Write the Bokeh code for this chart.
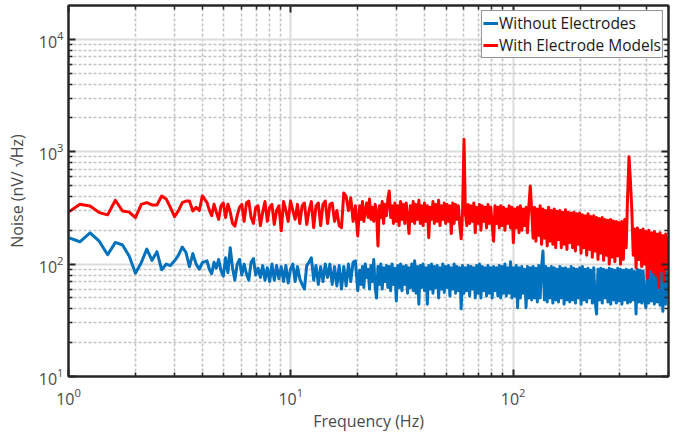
import numpy as np
from bokeh.plotting import figure
from bokeh.models import (LogAxis, FixedTicker, Legend, LegendItem, Range1d,
                          LogTickFormatter, LogTicker, CustomJSTickFormatter)
from bokeh.embed import file_html
from bokeh.resources import INLINE

# ---- data ----
# 1 - 4 Hz, linear 0.125 Hz bins
FREQ_A = [1.0, 1.125, 1.25, 1.375, 1.5, 1.625, 1.75, 1.875, 2.0, 2.125, 2.25, 2.375, 2.5,
          2.625, 2.75, 2.875, 3.0, 3.125, 3.25, 3.375, 3.5, 3.625, 3.75, 3.875, 4.0]
BLUE_A = [172, 158, 190, 160, 121, 156, 148, 118, 83, 103, 136, 108, 129,
          89, 100, 97, 107, 120, 142, 127, 95, 124, 100, 90, 103]
RED_A = [290, 341, 329, 287, 274, 370, 297, 290, 259, 340, 352, 336, 336,
         404, 380, 318, 264, 300, 352, 364, 364, 297, 320, 300, 404]

# 4.2 - 20 Hz sampling grid
FREQ_B = list(np.geomspace(4.2, 20.0, 66))
BLUE_B = [107, 90, 82, 104, 92, 110, 88, 78, 114, 84,
          140, 92, 72, 100, 110, 80, 100, 82, 72, 104,
          112, 80, 92, 76, 97, 72, 93, 70, 100, 72,
          97, 74, 95, 70, 97, 68, 90, 100, 70, 95,
          74, 66, 60, 97, 104, 114, 72, 97, 66, 95,
          70, 100, 76, 100, 66, 95, 64, 97, 60, 95,
          64, 100, 70, 104, 107, 58]
RED_B = [352, 300, 270, 341, 290, 250, 330, 350, 260, 341,
         290, 230, 218, 270, 320, 340, 240, 350, 364, 260,
         230, 320, 330, 220, 290, 360, 240, 320, 340, 225,
         300, 330, 198, 360, 300, 240, 364, 300, 250, 340,
         230, 330, 350, 225, 300, 360, 211, 330, 350, 220,
         340, 364, 230, 340, 350, 240, 300, 220, 211, 430,
         400, 300, 390, 240, 330, 178]

# 20.4 - 500 Hz sampling grid
FREQ_C = list(np.geomspace(20.4, 500, 220))
BLUE_C = [88, 66, 95, 62, 100, 76, 90, 60, 97, 70,
          110, 62, 50, 95, 66, 100, 60, 93, 70, 97,
          62, 95, 58, 100, 66, 92, 47, 97, 62, 100,
          58, 95, 66, 97, 55, 93, 62, 100, 58, 107,
          55, 95, 44, 97, 62, 100, 58, 93, 44, 97,
          60, 100, 55, 95, 62, 97, 50, 93, 60, 100,
          56, 95, 62, 97, 52, 93, 60, 100, 55, 95,
          58, 93, 40, 97, 55, 93, 58, 97, 52, 95,
          60, 93, 50, 97, 55, 100, 50, 95, 58, 93,
          52, 97, 55, 93, 50, 95, 58, 93, 52, 97,
          50, 95, 55, 100, 52, 93, 55, 105, 50, 93,
          52, 97, 41, 93, 50, 95, 55, 90, 41, 95,
          50, 93, 48, 95, 50, 92, 46, 97, 50, 95,
          131, 48, 95, 46, 92, 50, 95, 45, 93, 48,
          90, 46, 95, 50, 92, 44, 93, 48, 90, 46,
          95, 48, 92, 45, 90, 50, 93, 44, 95, 48,
          90, 46, 92, 50, 88, 45, 93, 47, 36, 90,
          48, 92, 45, 90, 50, 88, 46, 92, 44, 90,
          48, 88, 45, 92, 47, 90, 44, 88, 48, 90,
          45, 88, 46, 90, 48, 86, 36, 90, 46, 88,
          45, 87, 48, 41, 88, 45, 86, 47, 88, 44,
          85, 46, 87, 43, 85, 38, 86, 44, 84, 82]
RED_C = [330, 250, 360, 240, 300, 350, 260, 380, 250, 320,
         240, 340, 290, 145, 330, 260, 360, 230, 340, 270,
         380, 447, 260, 330, 230, 350, 240, 330, 220, 360,
         250, 340, 230, 350, 260, 187, 330, 240, 360, 230,
         340, 250, 370, 230, 330, 220, 350, 240, 330, 172,
         320, 250, 360, 230, 340, 240, 370, 220, 330, 250,
         350, 230, 340, 240, 330, 187, 350, 230, 340, 250,
         330, 220, 168, 300, 1290, 280, 220, 340, 230, 330,
         240, 350, 190, 320, 230, 340, 200, 330, 240, 320,
         210, 340, 230, 320, 220, 160, 330, 230, 320, 210,
         330, 220, 320, 200, 310, 230, 330, 210, 320, 155,
         310, 210, 320, 190, 330, 200, 310, 220, 320, 190,
         330, 495, 300, 170, 320, 160, 310, 180, 330, 150,
         310, 170, 300, 145, 320, 160, 300, 150, 310, 140,
         295, 165, 300, 140, 290, 150, 305, 135, 290, 155,
         285, 140, 290, 131, 280, 150, 285, 125, 275, 140,
         270, 120, 280, 135, 265, 115, 270, 130, 260, 110,
         255, 125, 260, 108, 250, 120, 245, 100, 250, 115,
         242, 105, 240, 118, 235, 100, 240, 110, 250, 140,
         400, 900, 550, 300, 120, 205, 93, 210, 110, 200,
         95, 205, 100, 195, 75, 200, 90, 190, 85, 195,
         80, 185, 62, 190, 88, 180, 70, 185, 90, 175]

X_MAJOR = [1, 10, 100]
X_MINOR = [2, 3, 4, 5, 6, 7, 8, 9, 20, 30, 40, 50, 60, 70, 80, 90, 200, 300, 400, 500]
Y_MAJOR = [10, 100, 1000, 10000]
Y_MINOR = [20, 30, 40, 50, 60, 70, 80, 90, 200, 300, 400, 500, 600, 700, 800, 900,
           2000, 3000, 4000, 5000, 6000, 7000, 8000, 9000]

LABEL_X = "Frequency (Hz)"
LABEL_Y = "Noise (nV/ \u221aHz)"
SERIES = ["Without Electrodes", "With Electrode Models"]

freq = FREQ_A + FREQ_B + FREQ_C
blue = BLUE_A + BLUE_B + BLUE_C
red = RED_A + RED_B + RED_C

FONT = "Open Sans"
TXT = "#4a4a4a"
AX = "#262626"

p = figure(frame_width=600, frame_height=371, x_axis_type="log", y_axis_type="log",
           x_range=Range1d(1, 500), y_range=Range1d(10, 20000),
           output_backend="svg", toolbar_location=None,
           min_border_left=68, min_border_right=8, min_border_top=5, min_border_bottom=0)

p.outline_line_color = AX
p.outline_line_width = 2
p.background_fill_color = "white"

for g in (p.xgrid[0], p.ygrid[0]):
    g.grid_line_color = "#dcdcdc"
    g.grid_line_width = 2
    g.minor_grid_line_color = "#c2c2c2"
    g.minor_grid_line_width = 1.6
    g.minor_grid_line_dash = "3 2"

def style_axis(ax, major, minor, labels=True):
    ax.ticker = FixedTicker(ticks=major, minor_ticks=minor)
    ax.major_tick_in = 7
    ax.major_tick_out = 0
    ax.minor_tick_in = 4
    ax.minor_tick_out = 0
    ax.major_tick_line_width = 2
    ax.minor_tick_line_width = 1.5
    ax.major_tick_line_color = AX
    ax.minor_tick_line_color = AX
    ax.axis_line_color = AX
    ax.axis_line_width = 2
    if labels:
        ax.formatter = LogTickFormatter(ticker=LogTicker())
        ax.major_label_text_font = FONT
        ax.major_label_text_font_size = "16px"
        ax.major_label_text_color = TXT
        ax.axis_label_text_font = FONT
        ax.axis_label_text_font_size = "16px"
        ax.axis_label_text_font_style = "normal"
        ax.axis_label_text_color = TXT
    else:
        ax.formatter = CustomJSTickFormatter(code="return ''")
        ax.major_label_text_font_size = "1px"
        ax.major_label_standoff = 0

style_axis(p.xaxis[0], X_MAJOR, X_MINOR)
style_axis(p.yaxis[0], Y_MAJOR, Y_MINOR)
p.xaxis[0].axis_label = LABEL_X
p.yaxis[0].axis_label = LABEL_Y
p.xaxis[0].major_label_standoff = 11
p.xaxis[0].axis_label_standoff = 2
p.yaxis[0].major_label_standoff = 5
p.yaxis[0].axis_label_standoff = 8

top_ax = LogAxis()
style_axis(top_ax, X_MAJOR, X_MINOR, labels=False)
p.add_layout(top_ax, "above")
right_ax = LogAxis()
style_axis(right_ax, Y_MAJOR, Y_MINOR, labels=False)
p.add_layout(right_ax, "right")

r_blue = p.line(freq, blue, line_color="#0072BD", line_width=3, line_join="round")
r_red = p.line(freq, red, line_color="#FF0000", line_width=3, line_join="round")

legend = Legend(items=[LegendItem(label=SERIES[0], renderers=[r_blue]),
                       LegendItem(label=SERIES[1], renderers=[r_red])],
                location="top_right")
legend.label_text_font = FONT
legend.label_text_font_size = "15.5px"
legend.label_text_color = "#1a1a1a"
legend.border_line_color = AX
legend.border_line_width = 1.5
legend.padding = 1
legend.spacing = -2
legend.margin = 5
legend.glyph_width = 15
legend.glyph_height = 14
legend.label_standoff = 1
legend.label_height = 16
legend.background_fill_alpha = 1
p.add_layout(legend)

open("out.html", "w").write(file_html(p, INLINE))
